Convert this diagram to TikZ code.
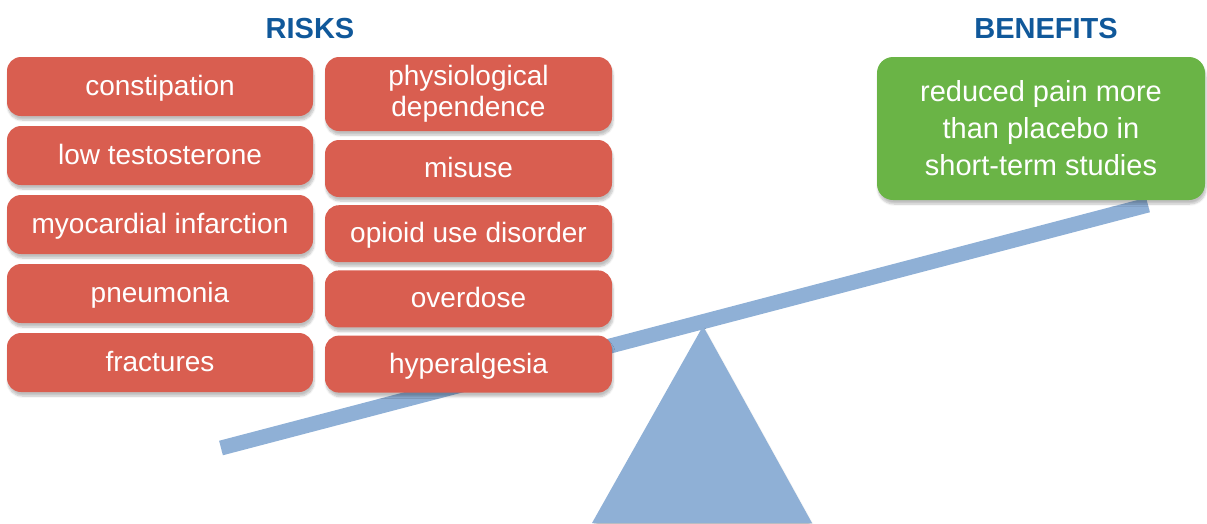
\documentclass[tikz,border=0pt]{standalone}
\usepackage{fontspec}
\setmainfont{Liberation Sans}
\usetikzlibrary{shadows.blur}
\definecolor{riskred}{RGB}{217,94,80}
\definecolor{benefitgreen}{RGB}{106,180,70}
\definecolor{beamblue}{RGB}{143,176,214}
\definecolor{titleblue}{RGB}{16,88,154}

\begin{document}
\begin{tikzpicture}[x=1pt, y=-1pt,
    softshadow/.style={blur shadow={shadow blur steps=6, shadow xshift=1pt, shadow yshift=-4pt, shadow opacity=25}},
    riskbox/.style={rectangle, rounded corners=14pt, fill=riskred, text=white, align=center,
        font=\fontsize{28}{31}\selectfont, inner sep=0pt, softshadow},
    oneline/.style={text height=22pt, text depth=4pt},
    benefitbox/.style={rectangle, rounded corners=16pt, fill=benefitgreen, text=white, align=center,
        font=\fontsize{29}{37}\selectfont, inner sep=0pt, softshadow},
    heading/.style={text=titleblue, font=\bfseries\fontsize{29}{29}\selectfont}]
    \useasboundingbox (0,0) rectangle (1207,523);

    % Seesaw beam and its stand
    \coordinate (beamL) at (221,448);
    \coordinate (beamR) at (1148,205);
    \draw[beamblue, line width=15pt, softshadow] (beamL) -- (beamR);
    \fill[beamblue, softshadow] (703,326) -- (812,523) -- (592,523) -- cycle;

    % Headings
    \node[heading] (risks) at (310,29) {RISKS};
    \node[heading] (benefits) at (1046,29) {BENEFITS};

    % Left column of risks
    \foreach \i/\name/\txt in {0/constip/constipation, 1/testo/low testosterone,
        2/infarct/myocardial infarction, 3/pneumo/pneumonia, 4/fract/fractures} {
        \node[riskbox, oneline, minimum width=306pt, minimum height=59pt] (\name) at (160,{86.5+69*\i}) {\txt};
    }

    % Right column of risks
    \node[riskbox, minimum width=287pt, minimum height=74pt] (depend) at (468.5,94) {\raisebox{-2pt}{physiological}\\\raisebox{-2pt}{dependence}};
    \foreach \i/\name/\txt in {0/misuse/misuse, 1/oud/opioid use disorder,
        2/overdose/overdose, 3/hyper/hyperalgesia} {
        \node[riskbox, oneline, minimum width=287pt, minimum height=57pt] (\name) at (468.5,{168.5+65.2*\i}) {\txt};
    }

    % Benefit
    \node[benefitbox, minimum width=328pt, minimum height=143pt] (pain) at (1041,128.5)
        {reduced pain more\\than placebo in\\short-term studies};
\end{tikzpicture}
\end{document}
